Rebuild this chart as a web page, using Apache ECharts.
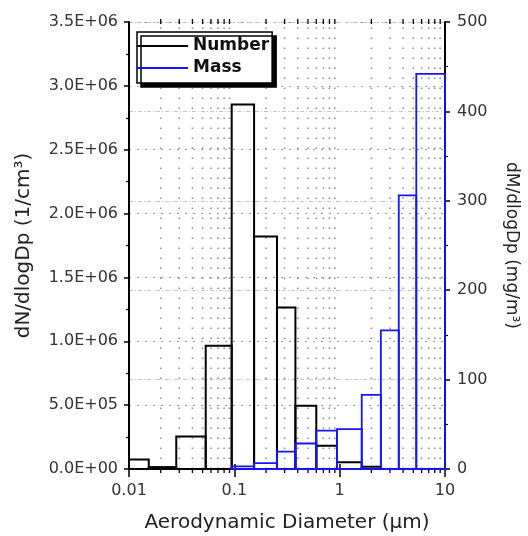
<!DOCTYPE html>
<html><head><meta charset="utf-8">
<script src="https://cdn.jsdelivr.net/npm/echarts@6/dist/echarts.min.js"></script>
<style>html,body{margin:0;padding:0;background:#fff}#c{width:528px;height:536px}</style>
</head><body><div id="c"></div>
<script>
// Bin edges (aerodynamic diameter, µm)
const binEdges = [0.01, 0.0154, 0.0281, 0.0535, 0.0944, 0.154, 0.254, 0.380, 0.600, 0.943, 1.62, 2.46, 3.64, 5.34, 10];
// dN/dlogDp (1/cm3) per bin
const numberValues = [7.5e4, 1.5e4, 2.55e5, 9.65e5, 2.855e6, 1.82e6, 1.265e6, 4.95e5, 1.83e5, 5.2e4, 1.8e4, null, null, null];
// dM/dlogDp (mg/m3) per bin
const massValues = [null, null, null, null, 3, 6.5, 19.5, 28.5, 43, 44.5, 83, 155, 306, 442];
const seriesNames = ['Number', 'Mass'];
const xTickLabels = ['0.01', '0.1', '1', '10'];
const xMinorTicks = [0.02,0.03,0.04,0.05,0.06,0.07,0.08,0.09,0.2,0.3,0.4,0.5,0.6,0.7,0.8,0.9,2,3,4,5,6,7,8,9];
const leftAxisMax = 3.5e6, leftAxisStep = 5e5;
const rightAxisMax = 500, rightAxisStep = 100;

const FONT = 'DejaVu Sans';
function binData(vals) {
  const out = [];
  vals.forEach((v, i) => { if (v != null) out.push([binEdges[i], binEdges[i + 1], v]); });
  return out;
}
function rectRenderer(color, width) {
  return function (params, api) {
    const p0 = api.coord([api.value(0), 0]);
    const p1 = api.coord([api.value(1), api.value(2)]);
    return {
      type: 'rect',
      shape: { x: p0[0], y: p1[1], width: p1[0] - p0[0], height: p0[1] - p1[1] },
      style: { fill: 'none', stroke: color, lineWidth: width }
    };
  };
}
function sci(v) {
  if (v === 0) return '0.0E+00';
  const e = Math.floor(Math.log10(v) + 1e-9);
  const m = v / Math.pow(10, e);
  return m.toFixed(1) + 'E' + (e < 0 ? '-' : '+') + String(Math.abs(e)).padStart(2, '0');
}

const chart = echarts.init(document.getElementById('c'), null, { renderer: 'canvas' });
chart.setOption({
  animation: false,
  backgroundColor: '#fff',
  grid: { left: 129, right: 83, top: 22, bottom: 67, containLabel: false, outerBoundsMode: 'none' },
  legend: {
    data: seriesNames,
    orient: 'vertical', align: 'left',
    left: 137, top: 32,
    padding: [4, 3, 5, 0],
    itemGap: 2, itemWidth: 51, itemHeight: 2,
    icon: 'rect',
    backgroundColor: '#fff',
    borderColor: '#000', borderWidth: 1.5,
    shadowColor: '#000', shadowBlur: 0, shadowOffsetX: 4, shadowOffsetY: 4,
    textStyle: { fontFamily: FONT, fontWeight: 'bold', fontSize: 17, color: '#111', lineHeight: 20 }
  },
  xAxis: [{
    type: 'log', logBase: 10, min: 0.01, max: 10, position: 'bottom',
    name: 'Aerodynamic Diameter (\u03bcm)', nameLocation: 'middle', nameGap: 44,
    nameTextStyle: { fontFamily: FONT, fontSize: 20, color: '#222' },
    axisLine: { lineStyle: { color: '#000', width: 2 } },
    axisTick: { length: 8, lineStyle: { color: '#000', width: 1.5 } },
    axisLabel: {
      fontFamily: FONT, fontSize: 16, color: '#333', margin: 14,
      formatter: v => xTickLabels.find(t => Math.abs(Math.log10(parseFloat(t)) - Math.log10(v)) < 1e-6) || ''
    },
    splitLine: { show: false }
  }, {
    type: 'log', logBase: 10, min: 0.01, max: 10, position: 'top',
    axisLine: { lineStyle: { color: '#000', width: 2 } },
    axisTick: { length: 5, lineStyle: { color: '#000', width: 1.5 } },
    axisLabel: { show: false },
    splitLine: { show: false }
  }],
  yAxis: [{
    type: 'value', min: 0, max: leftAxisMax, interval: leftAxisStep, position: 'left',
    name: 'dN/dlogDp (1/cm\u00b3)', nameLocation: 'middle', nameGap: 95,
    nameTextStyle: { fontFamily: FONT, fontSize: 20, color: '#222' },
    axisLine: { show: true, lineStyle: { color: '#000', width: 2 } },
    axisTick: { show: true, length: 5, lineStyle: { color: '#000', width: 1.5 } },
    minorTick: { show: true, splitNumber: 2, length: 3, lineStyle: { color: '#000', width: 1.2 } },
    axisLabel: { fontFamily: FONT, fontSize: 16, color: '#333', margin: 11, formatter: sci },
    splitLine: { show: true, lineStyle: { color: '#999', width: 1.2, type: [2, 6] } }
  }, {
    type: 'value', min: 0, max: rightAxisMax, interval: rightAxisStep, position: 'right',
    name: 'dM/dlogDp (mg/m\u00b3)', nameLocation: 'middle', nameGap: 58, nameRotate: -90,
    nameTextStyle: { fontFamily: FONT, fontSize: 17, color: '#222' },
    axisLine: { show: true, lineStyle: { color: '#000', width: 2 } },
    axisTick: { show: true, length: 5, lineStyle: { color: '#000', width: 1.5 } },
    minorTick: { show: true, splitNumber: 2, length: 3, lineStyle: { color: '#000', width: 1.2 } },
    axisLabel: { fontFamily: FONT, fontSize: 16, color: '#333', margin: 12 },
    splitLine: { show: true, lineStyle: { color: '#c4c4c4', width: 1.2, type: [4, 2, 1, 2] } }
  }],
  series: [{
    type: 'custom', name: 'grid-minor', silent: true, z: 1,
    xAxisIndex: 0, yAxisIndex: 0,
    data: xMinorTicks.map(x => [x, 0]),
    encode: { x: 0, y: 1 },
    renderItem: function (params, api) {
      const b = api.coord([api.value(0), 0]);
      const t = api.coord([api.value(0), leftAxisMax]);
      return {
        type: 'group', children: [
          { type: 'line', shape: { x1: b[0], y1: b[1], x2: t[0], y2: t[1] }, style: { stroke: '#8a8a8a', lineWidth: 1.5, lineDash: [1.5, 8.5] } },
          { type: 'line', shape: { x1: b[0], y1: b[1], x2: b[0], y2: b[1] + 4 }, style: { stroke: '#000', lineWidth: 1.3 } },
          { type: 'line', shape: { x1: t[0], y1: t[1] + 2, x2: t[0], y2: t[1] - 3 }, style: { stroke: '#000', lineWidth: 1.3 } }
        ]
      };
    }
  }, {
    type: 'custom', name: seriesNames[0], z: 3,
    xAxisIndex: 0, yAxisIndex: 0,
    itemStyle: { color: '#000' },
    data: binData(numberValues),
    encode: { x: [0, 1], y: 2 },
    renderItem: rectRenderer('#000', 2)
  }, {
    type: 'custom', name: seriesNames[1], z: 4,
    xAxisIndex: 0, yAxisIndex: 1,
    itemStyle: { color: '#1414ff' },
    data: binData(massValues),
    encode: { x: [0, 1], y: 2 },
    renderItem: rectRenderer('#1414ff', 1.8)
  }]
});
</script>
</body></html>
